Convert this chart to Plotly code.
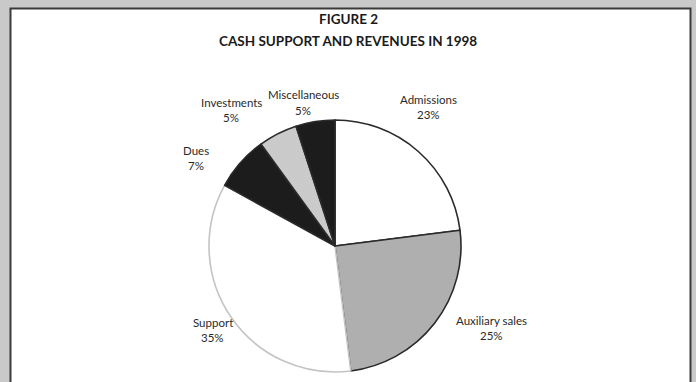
import plotly.graph_objects as go

categories = ["Admissions", "Auxiliary sales", "Support", "Dues", "Investments", "Miscellaneous"]
values = [23, 25, 35, 7, 5, 5]
pct_labels = ["23%", "25%", "35%", "7%", "5%", "5%"]
title_lines = ["FIGURE 2", "CASH SUPPORT AND REVENUES IN 1998"]

fill_colors = ["#ffffff", "#b3b3b3", "#ffffff", "#1c1c1c", "#cfcfcf", "#1c1c1c"]
line_colors = ["#2a2a2a", "#2a2a2a", "#c4c4c4", "#2a2a2a", "#2a2a2a", "#2a2a2a"]

# label anchor positions (paper pixels: x centre, y of first line)
label_pos = {
    "Admissions": (428, 99),
    "Auxiliary sales": (491, 320),
    "Support": (213, 322),
    "Dues": (196, 150),
    "Investments": (231, 103),
    "Miscellaneous": (303, 95),
}
LINE_GAP = 15

W, H = 696, 382

fig = go.Figure()
fig.add_trace(go.Pie(
    labels=categories,
    values=values,
    sort=False,
    direction="clockwise",
    rotation=0,
    textinfo="none",
    hoverinfo="label+percent",
    showlegend=False,
    marker=dict(
        colors=fill_colors,
        line=dict(color=line_colors, width=1.6),
        pattern=dict(
            shape=["", ".", "", "", ".", ""],
            fgcolor=["#ffffff", "#a2a2a2", "#ffffff", "#1c1c1c", "#bdbdbd", "#1c1c1c"],
            bgcolor=fill_colors,
            size=2,
            solidity=0.3,
        ),
    ),
    domain=dict(x=[209 / W, 461 / W], y=[1 - 372 / H, 1 - 120 / H]),
))

annotations = []
lab_font = dict(family="Lato, Open Sans, sans-serif", size=11.5, color="#2a2a2a")
for cat, pct in zip(categories, pct_labels):
    px, py = label_pos[cat]
    for i, t in enumerate([cat, pct]):
        annotations.append(dict(
            x=px / W, y=1 - (py + i * LINE_GAP) / H, xref="paper", yref="paper",
            text=t, showarrow=False, font=lab_font,
            xanchor="center", yanchor="middle", align="center",
        ))

for i, (t, yy) in enumerate(zip(title_lines, [19, 41])):
    annotations.append(dict(
        x=0.5, y=1 - yy / H, xref="paper", yref="paper",
        text=f"<b>{t}</b>", showarrow=False,
        font=dict(family="Lato, Open Sans, sans-serif", size=13.5, color="#1a1a1a"),
        xanchor="center", yanchor="middle", align="center",
    ))

fig.update_layout(
    width=W, height=H,
    margin=dict(l=0, r=0, t=0, b=0),
    paper_bgcolor="#c9c9c9",
    plot_bgcolor="#ffffff",
    annotations=annotations,
    shapes=[dict(
        type="rect", xref="paper", yref="paper",
        x0=10.5 / W, x1=690.5 / W, y0=-0.05, y1=1 - 8.5 / H,
        fillcolor="#ffffff", line=dict(color="#3a3a3a", width=2),
        layer="below",
    )],
)

fig.write_html("out.html")
